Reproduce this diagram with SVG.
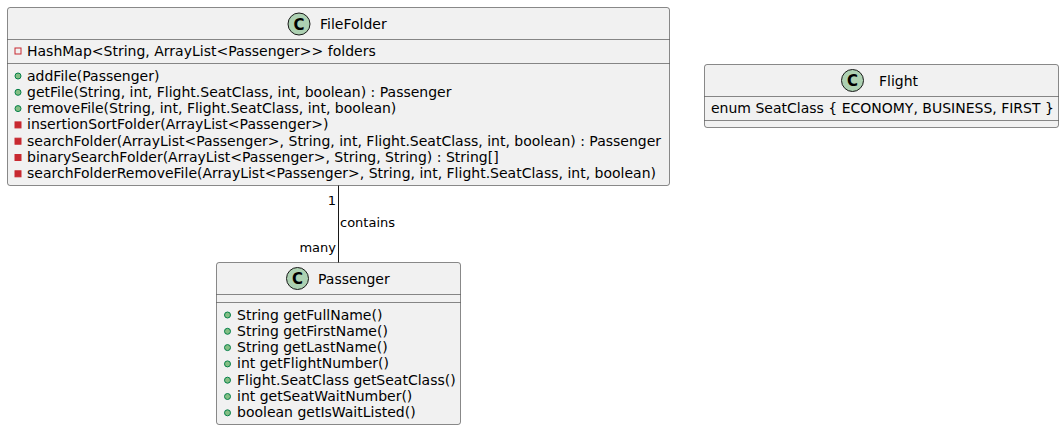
<svg xmlns="http://www.w3.org/2000/svg" width="1064" height="430" viewBox="0 0 1064 430">
<defs>
<style>
.box{fill:#F1F1F1;stroke:#181818;stroke-width:0.5}
.div{stroke:#181818;stroke-width:0.5;fill:none}
.t{font-family:"DejaVu Sans","Liberation Sans",sans-serif;font-size:14px;fill:#000}
.lbl{font-family:"DejaVu Sans","Liberation Sans",sans-serif;font-size:13px;fill:#000}
.cc{fill:#ADD1B2;stroke:#181818;stroke-width:1}
.cl{font-family:"DejaVu Sans","Liberation Sans",sans-serif;font-size:15px;font-weight:bold;fill:#000;text-anchor:middle}
.pub{fill:#84BE84;stroke:#038048;stroke-width:1}
.priv{fill:#C82930;stroke:#C82930;stroke-width:1}
.privf{fill:none;stroke:#C82930;stroke-width:1}
.edge{stroke:#181818;stroke-width:1;fill:none}
</style>
</defs>
<rect width="1064" height="430" fill="#FFFFFF"/>

<g id="FileFolder">
<rect class="box" x="7.5" y="7.5" width="662" height="178" rx="2.5"/>
<circle class="cc" cx="299" cy="24" r="11"/>
<text class="cl" x="299" y="29.5">C</text>
<text class="t" x="320" y="29">FileFolder</text>
<line class="div" x1="7.5" y1="39.5" x2="669.5" y2="39.5"/>
<rect class="privf" x="15" y="48" width="6" height="6"/>
<text class="t" x="27" y="56">HashMap&lt;String, ArrayList&lt;Passenger&gt;&gt; folders</text>
<line class="div" x1="7.5" y1="63.5" x2="669.5" y2="63.5"/>
<circle class="pub" cx="18" cy="76" r="3"/>
<text class="t" x="27" y="80.5">addFile(Passenger)</text>
<circle class="pub" cx="18" cy="92.3" r="3"/>
<text class="t" x="27" y="96.8">getFile(String, int, Flight.SeatClass, int, boolean) : Passenger</text>
<circle class="pub" cx="18" cy="108.6" r="3"/>
<text class="t" x="27" y="113.1">removeFile(String, int, Flight.SeatClass, int, boolean)</text>
<rect class="priv" x="15" y="121.9" width="6" height="6"/>
<text class="t" x="27" y="129.4">insertionSortFolder(ArrayList&lt;Passenger&gt;)</text>
<rect class="priv" x="15" y="138.2" width="6" height="6"/>
<text class="t" x="27" y="145.7">searchFolder(ArrayList&lt;Passenger&gt;, String, int, Flight.SeatClass, int, boolean) : Passenger</text>
<rect class="priv" x="15" y="154.5" width="6" height="6"/>
<text class="t" x="27" y="162">binarySearchFolder(ArrayList&lt;Passenger&gt;, String, String) : String[]</text>
<rect class="priv" x="15" y="170.8" width="6" height="6"/>
<text class="t" x="27" y="178.3">searchFolderRemoveFile(ArrayList&lt;Passenger&gt;, String, int, Flight.SeatClass, int, boolean)</text>
</g>

<g id="Flight">
<rect class="box" x="704.5" y="64.5" width="354" height="63" rx="2.5"/>
<circle class="cc" cx="852.5" cy="80.5" r="11"/>
<text class="cl" x="852.5" y="86">C</text>
<text class="t" x="879" y="85.5">Flight</text>
<line class="div" x1="704.5" y1="96.5" x2="1058.5" y2="96.5"/>
<text class="t" x="711" y="113">enum SeatClass { ECONOMY, BUSINESS, FIRST }</text>
<line class="div" x1="704.5" y1="120.5" x2="1058.5" y2="120.5"/>
</g>

<g id="Passenger">
<rect class="box" x="216.5" y="262.5" width="244" height="162" rx="2.5"/>
<circle class="cc" cx="297.5" cy="278.5" r="11"/>
<text class="cl" x="297.5" y="284">C</text>
<text class="t" x="318" y="284">Passenger</text>
<line class="div" x1="216.5" y1="294.5" x2="460.5" y2="294.5"/>
<line class="div" x1="216.5" y1="302.5" x2="460.5" y2="302.5"/>
<circle class="pub" cx="227.5" cy="315" r="3"/>
<text class="t" x="237" y="319.5">String getFullName()</text>
<circle class="pub" cx="227.5" cy="331.3" r="3"/>
<text class="t" x="237" y="335.8">String getFirstName()</text>
<circle class="pub" cx="227.5" cy="347.6" r="3"/>
<text class="t" x="237" y="352.1">String getLastName()</text>
<circle class="pub" cx="227.5" cy="363.9" r="3"/>
<text class="t" x="237" y="368.4">int getFlightNumber()</text>
<circle class="pub" cx="227.5" cy="380.2" r="3"/>
<text class="t" x="237" y="384.7">Flight.SeatClass getSeatClass()</text>
<circle class="pub" cx="227.5" cy="396.5" r="3"/>
<text class="t" x="237" y="401">int getSeatWaitNumber()</text>
<circle class="pub" cx="227.5" cy="412.8" r="3"/>
<text class="t" x="237" y="417.3">boolean getIsWaitListed()</text>
</g>

<g id="connectors">
<line class="edge" x1="338.5" y1="185.5" x2="338.5" y2="262.5"/>
<text class="lbl" x="336" y="205" text-anchor="end">1</text>
<text class="lbl" x="340" y="227">contains</text>
<text class="lbl" x="336" y="251.5" text-anchor="end">many</text>
</g>
</svg>
